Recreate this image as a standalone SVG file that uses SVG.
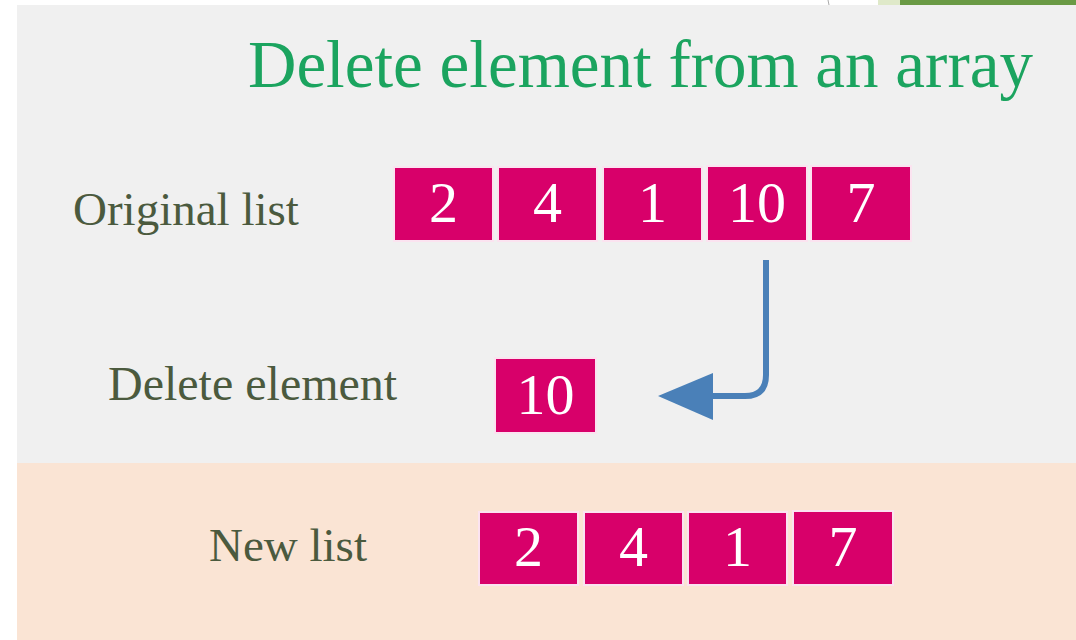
<svg xmlns="http://www.w3.org/2000/svg" width="1076" height="640" viewBox="0 0 1076 640">
<style>
.lbl{font-family:"Liberation Serif","Times New Roman",serif;fill:#4b5a3e;font-size:47px}
.box rect{fill:#d8006a;stroke:#fbe3f0;stroke-width:2}
.box text{font-family:"Liberation Serif","Times New Roman",serif;fill:#ffffff;font-size:58px;text-anchor:middle}
</style>
<rect x="0" y="0" width="1076" height="640" fill="#ffffff"/>
<rect x="17" y="5" width="1059" height="458" fill="#f0f0f0"/>
<rect x="17" y="463" width="1059" height="177" fill="#fae4d4"/>
<rect x="878" y="0" width="22" height="5" fill="#dfe9c9"/>
<rect x="900" y="0" width="176" height="5" fill="#6a9a45"/>
<line x1="828" y1="0" x2="829" y2="5" stroke="#aaaaaa" stroke-width="1"/>
<text id="title" x="248" y="87" font-family="Liberation Serif, Times New Roman, serif" font-size="67" fill="#1ba45f">Delete element from an array</text>
<text id="lbl-original" class="lbl" x="73" y="225">Original list</text>
<text id="lbl-delete" class="lbl" x="108" y="400" style="font-size:48px">Delete element</text>
<text id="lbl-new" class="lbl" x="209" y="561">New list</text>
<g id="original-list">
<g id="o1" class="box"><rect x="394" y="167" width="99" height="74"/><text x="443.5" y="222">2</text></g>
<g id="o2" class="box"><rect x="498" y="167" width="99" height="74"/><text x="547.5" y="222">4</text></g>
<g id="o3" class="box"><rect x="603" y="167" width="99" height="74"/><text x="652.5" y="222">1</text></g>
<g id="o4" class="box"><rect x="707" y="166" width="100" height="75"/><text x="757" y="222">10</text></g>
<g id="o5" class="box"><rect x="811" y="166" width="100" height="75"/><text x="861" y="222">7</text></g>
</g>
<g id="deleted" class="box"><rect x="495" y="358" width="101" height="75"/><text x="545.5" y="414">10</text></g>
<g id="new-list">
<g id="n1" class="box"><rect x="479" y="512" width="99" height="73"/><text x="528.5" y="566">2</text></g>
<g id="n2" class="box"><rect x="584" y="512" width="99" height="73"/><text x="633.5" y="566">4</text></g>
<g id="n3" class="box"><rect x="688" y="512" width="99" height="73"/><text x="737.5" y="566">1</text></g>
<g id="n4" class="box"><rect x="793" y="511" width="100" height="74"/><text x="843" y="566">7</text></g>
</g>
<g id="connectors">
<path d="M766 260 V375 Q766 396 745 396 H710" fill="none" stroke="#4a80b8" stroke-width="6"/>
<polygon points="658,396 713,373 713,420" fill="#4a80b8"/>
</g>
</svg>
